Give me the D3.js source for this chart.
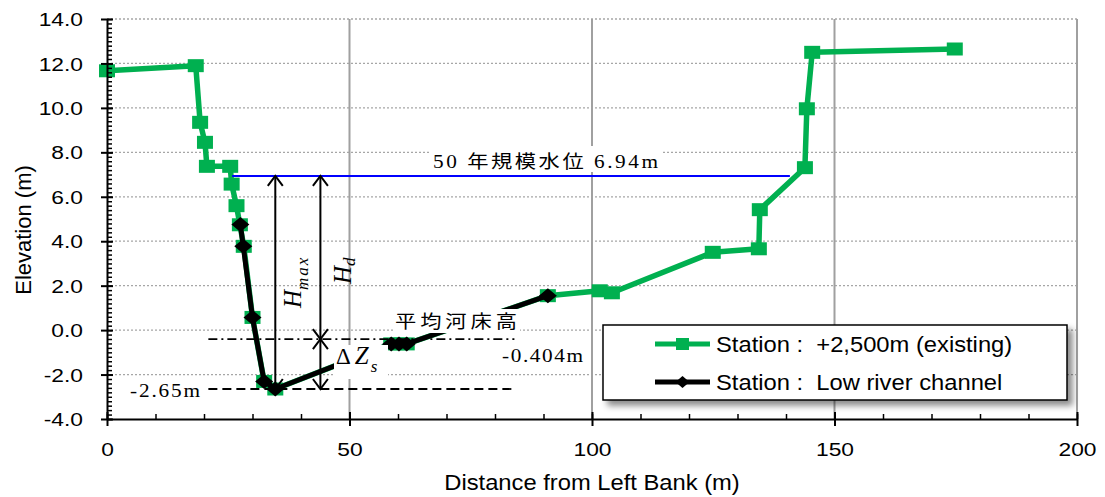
<!DOCTYPE html>
<html>
<head>
<meta charset="utf-8">
<script src="https://cdn.jsdelivr.net/npm/d3@7"></script>
<style>
  html, body { margin: 0; padding: 0; background: #fff; }
  svg { display: block; }
</style>
</head>
<body>
<svg id="chart" width="1105" height="497"></svg>
<script>
// Surveyed cross-section: existing channel at station +2,500m
const existingX = [0, 18.3, 19.2, 20.2, 20.6, 25.4, 25.7, 26.7, 27.4, 28.2, 30.0, 32.4, 34.7, 58.6, 60.2, 61.8, 90.9, 101.6, 104.1, 124.9, 134.4, 134.6, 143.9, 144.3, 145.4, 174.8];
const existingY = [11.67, 11.9, 9.35, 8.45, 7.37, 7.37, 6.57, 5.6, 4.74, 3.77, 0.57, -2.31, -2.65, -0.62, -0.62, -0.62, 1.55, 1.77, 1.68, 3.5, 3.66, 5.42, 7.31, 9.96, 12.5, 12.65];

// Low-water channel section
const lowX = [27.5, 28.1, 30.0, 32.4, 34.7, 58.6, 60.2, 61.8, 90.9];
const lowY = [4.75, 3.77, 0.57, -2.31, -2.65, -0.62, -0.62, -0.62, 1.55];

const seriesNames = ["Station :\u00a0 +2,500m (existing)", "Station :\u00a0 Low river channel"];

// Axis ticks
const yTicks = [-4, -2, 0, 2, 4, 6, 8, 10, 12, 14];
const xTicks = [0, 50, 100, 150, 200];

// Reference levels (m) and distances (m)
const waterLevel = 6.94;      // 50-year flood level
const meanBed = -0.404;       // mean river bed height
const deepest = -2.65;        // deepest bed
const waterFrom = 25.8, waterTo = 140.8;
const refLineFrom = 20.9, refLineTo = 84.0;
const hmaxAt = 34.7, hdAt = 44.0;

const GREEN = "#00B050";
const SX = 1.2;    // horizontal glyph stretch used for the sans labels
const NSX = 1.15;  // horizontal glyph stretch used for the serif notes

const svg = d3.select("#chart");
const x = d3.scaleLinear().domain([0, 200]).range([107, 1077]);
const y = d3.scaleLinear().domain([-4, 14]).range([419, 19]);
const fmt = d3.formatLocale({ decimal: ".", thousands: ",", grouping: [3], currency: ["", ""], minus: "-" });

const defs = svg.append("defs");
defs.append("filter").attr("id", "shadow")
  .attr("x", "-5%").attr("y", "-20%").attr("width", "115%").attr("height", "150%")
  .append("feDropShadow")
  .attr("dx", 5).attr("dy", 5).attr("stdDeviation", 3)
  .attr("flood-color", "#000").attr("flood-opacity", 0.45);

// Gridlines
const grid = svg.append("g");
grid.selectAll("line.h").data(yTicks.filter(d => d > -4)).join("line")
  .attr("x1", x(0)).attr("x2", x(200))
  .attr("y1", d => y(d)).attr("y2", d => y(d))
  .attr("stroke", "#a6a6a6").attr("stroke-width", 1.3).attr("stroke-dasharray", "2,2");
grid.selectAll("line.v").data(xTicks.filter(d => d > 0)).join("line")
  .attr("x1", d => x(d)).attr("x2", d => x(d))
  .attr("y1", y(14)).attr("y2", y(-4))
  .attr("stroke", "#a0a0a0").attr("stroke-width", 2);

// Series
const line = d3.line().x(d => x(d[0])).y(d => y(d[1]));
const existing = existingX.map((v, i) => [v, existingY[i]]);
const low = lowX.map((v, i) => [v, lowY[i]]);

svg.append("path").datum(existing).attr("d", line)
  .attr("fill", "none").attr("stroke", GREEN).attr("stroke-width", 5.5)
  .attr("stroke-linejoin", "round");
svg.append("g").selectAll("rect").data(existing).join("rect")
  .attr("x", d => x(d[0]) - 8).attr("y", d => y(d[1]) - 6.5)
  .attr("width", 16).attr("height", 13).attr("fill", GREEN);

svg.append("path").datum(low).attr("d", line)
  .attr("fill", "none").attr("stroke", "#000").attr("stroke-width", 5)
  .attr("stroke-linejoin", "round");
const diamond = (cx, cy, w, h) => `M${cx},${cy - h / 2}L${cx + w / 2},${cy}L${cx},${cy + h / 2}L${cx - w / 2},${cy}Z`;
svg.append("g").selectAll("path").data(low).join("path")
  .attr("d", d => diamond(x(d[0]), y(d[1]), 18, 15)).attr("fill", "#000");

// Label backgrounds
const boxes = svg.append("g").attr("fill", "#fff");
boxes.append("rect").attr("x", 430).attr("y", 146).attr("width", 232).attr("height", 26);
boxes.append("rect").attr("x", 393).attr("y", 309).attr("width", 127).attr("height", 24);
boxes.append("rect").attr("x", 334).attr("y", 345).attr("width", 54).attr("height", 34);

// Reference lines
const ann = svg.append("g");
ann.append("line")
  .attr("x1", x(waterFrom)).attr("x2", x(waterTo))
  .attr("y1", y(waterLevel)).attr("y2", y(waterLevel))
  .attr("stroke", "#0000FF").attr("stroke-width", 2);
ann.append("line")
  .attr("x1", x(refLineFrom)).attr("x2", x(refLineTo))
  .attr("y1", y(meanBed)).attr("y2", y(meanBed))
  .attr("stroke", "#000").attr("stroke-width", 1.8).attr("stroke-dasharray", "9,4,2,4");
ann.append("line")
  .attr("x1", x(refLineFrom)).attr("x2", x(refLineTo))
  .attr("y1", y(deepest)).attr("y2", y(deepest))
  .attr("stroke", "#000").attr("stroke-width", 1.8).attr("stroke-dasharray", "9,5");

// Dimension arrows with open heads
function dimension(xv, top, bottom) {
  const px = x(xv), y1 = y(top), y2 = y(bottom);
  const g = ann.append("g").attr("stroke", "#000").attr("stroke-width", 2).attr("fill", "none");
  g.append("line").attr("x1", px).attr("x2", px).attr("y1", y1).attr("y2", y2);
  g.append("path").attr("d", `M${px - 7.5},${y1 + 10}L${px},${y1}L${px + 7.5},${y1 + 10}`);
  g.append("path").attr("d", `M${px - 7.5},${y2 - 10}L${px},${y2}L${px + 7.5},${y2 - 10}`);
}
dimension(hmaxAt, waterLevel, deepest);
dimension(hdAt, waterLevel, meanBed);
dimension(hdAt, meanBed, deepest);

// Annotation texts
const serif = "'Liberation Serif', 'Times New Roman', 'Noto Sans CJK JP', serif";
function note(str, px, py, len, size) {
  return ann.append("text")
    .attr("transform", `translate(${px},${py}) scale(${NSX},1)`)
    .attr("font-family", serif).attr("font-size", size).attr("fill", "#000")
    .attr("textLength", len / NSX).attr("lengthAdjust", "spacing")
    .text(str);
}
note("50 年規模水位 6.94m", 433, 168, 225, 18.5);
note("平均河床高", 395, 328, 122, 18.5);
note("-0.404m", 502, 362, 81, 18.5);
note("-2.65m", 130, 397, 70, 18.5);

// H_max label (rotated)
const hmax = ann.append("text")
  .attr("transform", "translate(301,308) rotate(-90)")
  .attr("font-family", serif).attr("font-style", "italic").attr("fill", "#000");
hmax.append("tspan").attr("font-size", 25).text("H");
hmax.append("tspan").attr("font-size", 17).attr("dy", 7).attr("letter-spacing", 2).text("max");

const hd = ann.append("text")
  .attr("transform", "translate(351,284) rotate(-90)")
  .attr("font-family", serif).attr("font-style", "italic").attr("fill", "#000");
hd.append("tspan").attr("font-size", 25).text("H");
hd.append("tspan").attr("font-size", 17).attr("dy", 4).text("d");

const dz = ann.append("text").attr("x", 336).attr("y", 364)
  .attr("font-family", serif).attr("fill", "#000");
dz.append("tspan").attr("font-size", 23).text("\u0394");
dz.append("tspan").attr("font-size", 25).attr("font-style", "italic").attr("dx", 4).text("Z");
dz.append("tspan").attr("font-size", 17).attr("font-style", "italic").attr("dx", 2).attr("dy", 8).text("s");

// Axes
const sans = "'Liberation Sans', Arial, sans-serif";
const yMinor = d3.range(-4, 14.001, 0.2);
const xMinor = d3.range(0, 200.001, 10);

const gyMinor = svg.append("g").attr("transform", `translate(${x(0)},0)`)
  .call(d3.axisLeft(y).tickValues(yMinor).tickSizeInner(-5).tickSizeOuter(0).tickFormat(""));
gyMinor.select(".domain").remove();
gyMinor.selectAll("line").attr("stroke", "#000").attr("stroke-width", 1.5);

const gy = svg.append("g").attr("transform", `translate(${x(0)},0)`)
  .call(d3.axisLeft(y).tickValues(yTicks).tickFormat(fmt.format(".1f")).tickSizeInner(6).tickSizeOuter(0));
gy.select(".domain").attr("stroke", "#000").attr("stroke-width", 2);
gy.selectAll(".tick line").attr("x1", 6).attr("stroke", "#000").attr("stroke-width", 2);
gy.selectAll(".tick text")
  .attr("x", 0).attr("dy", "0.35em")
  .attr("transform", `translate(-24,0) scale(${SX},1)`)
  .attr("font-family", sans).attr("font-size", 19).attr("fill", "#000");

const gxMinor = svg.append("g").attr("transform", `translate(0,${y(-4)})`)
  .call(d3.axisBottom(x).tickValues(xMinor).tickSizeInner(-5).tickSizeOuter(0).tickFormat(""));
gxMinor.select(".domain").remove();
gxMinor.selectAll("line").attr("stroke", "#000").attr("stroke-width", 1.5);

const gx = svg.append("g").attr("transform", `translate(0,${y(-4)})`)
  .call(d3.axisBottom(x).tickValues(xTicks).tickFormat(fmt.format("d")).tickSizeInner(7).tickSizeOuter(0));
gx.select(".domain").attr("stroke", "#000").attr("stroke-width", 2);
gx.selectAll(".tick line").attr("y1", -7).attr("stroke", "#000").attr("stroke-width", 2);
gx.selectAll(".tick text")
  .attr("y", 0).attr("dy", null)
  .attr("transform", `translate(0,37) scale(${SX},1)`)
  .attr("font-family", sans).attr("font-size", 19).attr("fill", "#000");

svg.append("text")
  .attr("transform", `translate(${x(100)},490) scale(1.08,1)`)
  .attr("text-anchor", "middle").attr("font-family", sans).attr("font-size", 22).attr("fill", "#000")
  .text("Distance from Left Bank (m)");
svg.append("text")
  .attr("transform", "translate(31,230) rotate(-90)")
  .attr("text-anchor", "middle").attr("font-family", sans).attr("font-size", 22).attr("fill", "#000")
  .text("Elevation (m)");

// Legend
const leg = svg.append("g");
leg.append("rect").attr("x", 603).attr("y", 325).attr("width", 464).attr("height", 75)
  .attr("fill", "#fff").attr("stroke", "#000").attr("stroke-width", 1.5)
  .attr("filter", "url(#shadow)");
const legRows = [
  { name: seriesNames[0], color: GREEN, cy: 344, marker: "square" },
  { name: seriesNames[1], color: "#000", cy: 382, marker: "diamond" }
];
legRows.forEach(r => {
  leg.append("line").attr("x1", 655).attr("x2", 710).attr("y1", r.cy).attr("y2", r.cy)
    .attr("stroke", r.color).attr("stroke-width", 5);
  if (r.marker === "square") {
    leg.append("rect").attr("x", 676).attr("y", r.cy - 6).attr("width", 13).attr("height", 12).attr("fill", r.color);
  } else {
    leg.append("path").attr("d", diamond(682.5, r.cy, 14, 12)).attr("fill", r.color);
  }
  leg.append("text")
    .attr("transform", `translate(716,${r.cy + 8}) scale(1.08,1)`)
    .attr("font-family", sans).attr("font-size", 22).attr("fill", "#000")
    .text(r.name);
});
</script>
</body>
</html>
